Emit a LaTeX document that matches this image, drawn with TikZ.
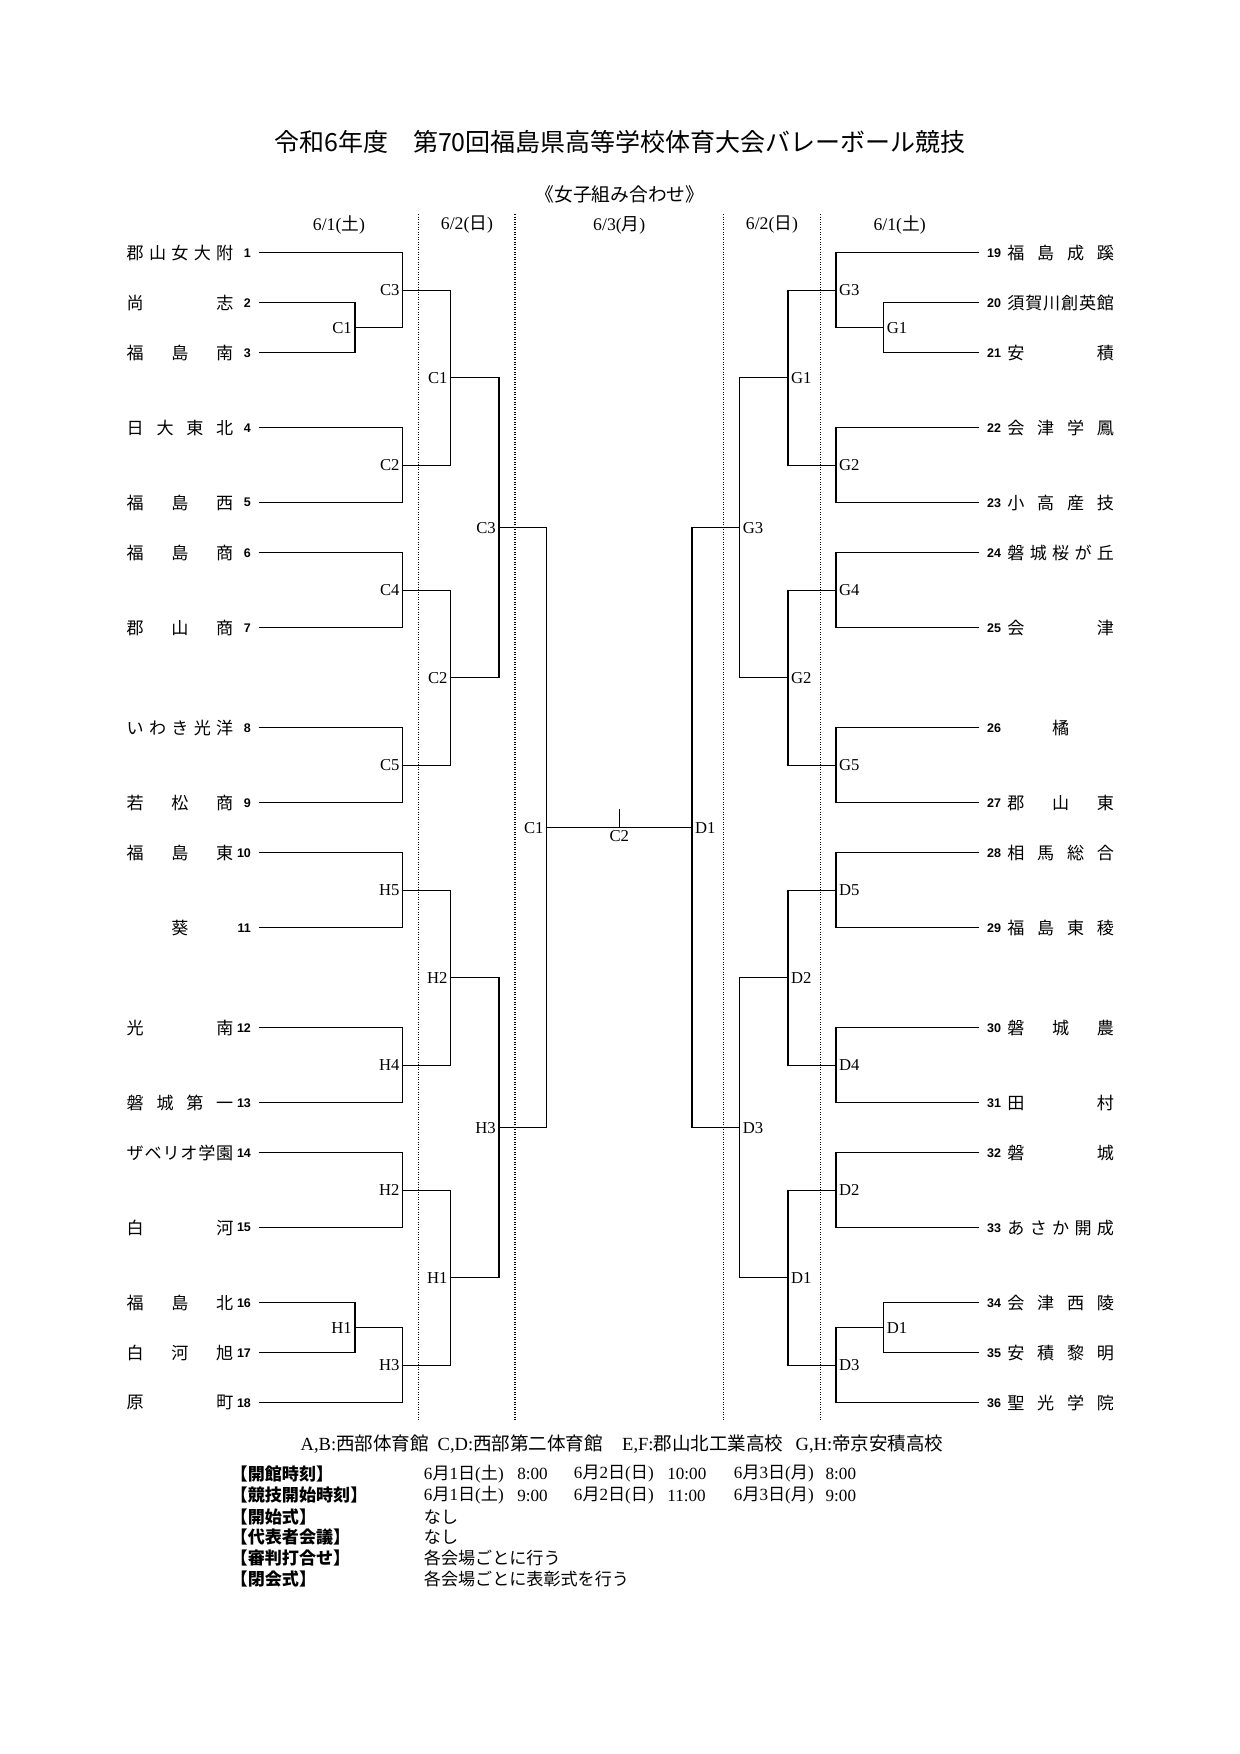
\documentclass[tikz,border=0pt]{standalone}
\usepackage{fontspec}
\setmainfont{Liberation Serif}
\setsansfont{Liberation Sans}
\newfontfamily\jp{Noto Sans CJK JP}
\newcommand\tm[1]{\makebox[51.2pt][s]{\spaceskip=0pt plus 1fil\relax #1}}
\newcommand\dt[3]{#1{\jp 月}#2{\jp 日}({\jp #3})}

\begin{document}
\begin{tikzpicture}[x=0.48pt,y=-0.48pt,line width=0.65pt,
  team/.style={anchor=west,inner sep=0pt,font=\jp\fontsize{8.2}{9}\selectfont},
  num/.style={inner xsep=3.4pt,inner ysep=0pt,font=\sffamily\bfseries\fontsize{6}{7}\selectfont},
  mlab/.style={inner sep=1.2pt,font=\fontsize{8}{9}\selectfont},
  ml/.style={label={[mlab]left:#1}},
  mr/.style={label={[mlab]right:#1}},
  sep/.style={line width=0.5pt,dash pattern=on 0.6pt off 0.6pt},
  day/.style={font=\fontsize{8.5}{10}\selectfont},
  info/.style={anchor=west,inner sep=0pt,font=\jp\bfseries\fontsize{8.2}{10}\selectfont},
  val/.style={anchor=west,inner sep=0pt,font=\fontsize{8.2}{10}\selectfont}]

  \useasboundingbox (0,0) rectangle (1240,1754);

  \node[font=\jp\fontsize{12}{14}\selectfont] (title) at (620,142) {令和6年度　第70回福島県高等学校体育大会バレーボール競技};
  \node[font=\jp\fontsize{9}{11}\selectfont] (sub) at (620,194) {《女子組み合わせ》};

  \node[day] (d1l) at (339,225) {6/1({\jp 土})};
  \node[day] (d2l) at (467,225) {6/2({\jp 日})};
  \node[day] (d3) at (619.3,225) {6/3({\jp 月})};
  \node[day] (d2r) at (772,225) {6/2({\jp 日})};
  \node[day] (d1r) at (899.6,225) {6/1({\jp 土})};

  \coordinate (s1t) at (418.3,214); \coordinate (s1b) at (418.3,1421);
  \coordinate (s2t) at (515,214); \coordinate (s2b) at (515,1421);
  \coordinate (s3t) at (723.6,214); \coordinate (s3b) at (723.6,1421);
  \coordinate (s4t) at (820.3,214); \coordinate (s4b) at (820.3,1421);
  \draw[sep] (s1t) -- (s1b);
  \draw[sep] (s2t) -- (s2b);
  \draw[sep] (s3t) -- (s3b);
  \draw[sep] (s4t) -- (s4b);

  % left teams
  \node[team] (t1) at (126,252.7) {\tm{郡 山 女 大 附}};
  \node[team] (t2) at (126,302.7) {\tm{尚 志}};
  \node[team] (t3) at (126,352.7) {\tm{福 島 南}};
  \node[team] (t4) at (126,427.7) {\tm{日 大 東 北}};
  \node[team] (t5) at (126,502.7) {\tm{福 島 西}};
  \node[team] (t6) at (126,552.7) {\tm{福 島 商}};
  \node[team] (t7) at (126,627.7) {\tm{郡 山 商}};
  \node[team] (t8) at (126,727.7) {\tm{い わ き 光 洋}};
  \node[team] (t9) at (126,802.7) {\tm{若 松 商}};
  \node[team] (t10) at (126,852.7) {\tm{福 島 東}};
  \node[team] (t11) at (126,927.7) {\tm{\hfil 葵\hfil}};
  \node[team] (t12) at (126,1027.7) {\tm{光 南}};
  \node[team] (t13) at (126,1102.7) {\tm{磐 城 第 一}};
  \node[team] (t14) at (126,1152.7) {\tm{ザ ベ リ オ 学 園}};
  \node[team] (t15) at (126,1227.7) {\tm{白 河}};
  \node[team] (t16) at (126,1302.7) {\tm{福 島 北}};
  \node[team] (t17) at (126,1352.7) {\tm{白 河 旭}};
  \node[team] (t18) at (126,1402.7) {\tm{原 町}};

  \node[num,anchor=east] (n1) at (258.7,252.7) {1};
  \node[num,anchor=east] (n2) at (258.7,302.7) {2};
  \node[num,anchor=east] (n3) at (258.7,352.7) {3};
  \node[num,anchor=east] (n4) at (258.7,427.7) {4};
  \node[num,anchor=east] (n5) at (258.7,502.7) {5};
  \node[num,anchor=east] (n6) at (258.7,552.7) {6};
  \node[num,anchor=east] (n7) at (258.7,627.7) {7};
  \node[num,anchor=east] (n8) at (258.7,727.7) {8};
  \node[num,anchor=east] (n9) at (258.7,802.7) {9};
  \node[num,anchor=east] (n10) at (258.7,852.7) {10};
  \node[num,anchor=east] (n11) at (258.7,927.7) {11};
  \node[num,anchor=east] (n12) at (258.7,1027.7) {12};
  \node[num,anchor=east] (n13) at (258.7,1102.7) {13};
  \node[num,anchor=east] (n14) at (258.7,1152.7) {14};
  \node[num,anchor=east] (n15) at (258.7,1227.7) {15};
  \node[num,anchor=east] (n16) at (258.7,1302.7) {16};
  \node[num,anchor=east] (n17) at (258.7,1352.7) {17};
  \node[num,anchor=east] (n18) at (258.7,1402.7) {18};

  % right teams
  \node[team] (t19) at (1006.7,252.7) {\tm{福 島 成 蹊}};
  \node[team] (t20) at (1006.7,302.7) {\tm{須 賀 川 創 英 館}};
  \node[team] (t21) at (1006.7,352.7) {\tm{安 積}};
  \node[team] (t22) at (1006.7,427.7) {\tm{会 津 学 鳳}};
  \node[team] (t23) at (1006.7,502.7) {\tm{小 高 産 技}};
  \node[team] (t24) at (1006.7,552.7) {\tm{磐 城 桜 が 丘}};
  \node[team] (t25) at (1006.7,627.7) {\tm{会 津}};
  \node[team] (t26) at (1006.7,727.7) {\tm{\hfil 橘\hfil}};
  \node[team] (t27) at (1006.7,802.7) {\tm{郡 山 東}};
  \node[team] (t28) at (1006.7,852.7) {\tm{相 馬 総 合}};
  \node[team] (t29) at (1006.7,927.7) {\tm{福 島 東 稜}};
  \node[team] (t30) at (1006.7,1027.7) {\tm{磐 城 農}};
  \node[team] (t31) at (1006.7,1102.7) {\tm{田 村}};
  \node[team] (t32) at (1006.7,1152.7) {\tm{磐 城}};
  \node[team] (t33) at (1006.7,1227.7) {\tm{あ さ か 開 成}};
  \node[team] (t34) at (1006.7,1302.7) {\tm{会 津 西 陵}};
  \node[team] (t35) at (1006.7,1352.7) {\tm{安 積 黎 明}};
  \node[team] (t36) at (1006.7,1402.7) {\tm{聖 光 学 院}};

  \node[num,anchor=west] (n19) at (979.3,252.7) {19};
  \node[num,anchor=west] (n20) at (979.3,302.7) {20};
  \node[num,anchor=west] (n21) at (979.3,352.7) {21};
  \node[num,anchor=west] (n22) at (979.3,427.7) {22};
  \node[num,anchor=west] (n23) at (979.3,502.7) {23};
  \node[num,anchor=west] (n24) at (979.3,552.7) {24};
  \node[num,anchor=west] (n25) at (979.3,627.7) {25};
  \node[num,anchor=west] (n26) at (979.3,727.7) {26};
  \node[num,anchor=west] (n27) at (979.3,802.7) {27};
  \node[num,anchor=west] (n28) at (979.3,852.7) {28};
  \node[num,anchor=west] (n29) at (979.3,927.7) {29};
  \node[num,anchor=west] (n30) at (979.3,1027.7) {30};
  \node[num,anchor=west] (n31) at (979.3,1102.7) {31};
  \node[num,anchor=west] (n32) at (979.3,1152.7) {32};
  \node[num,anchor=west] (n33) at (979.3,1227.7) {33};
  \node[num,anchor=west] (n34) at (979.3,1302.7) {34};
  \node[num,anchor=west] (n35) at (979.3,1352.7) {35};
  \node[num,anchor=west] (n36) at (979.3,1402.7) {36};

  % left matches
  \coordinate[ml=C1] (c1a) at (355,327.7);
  \coordinate[ml=H1] (h1a) at (355,1327.7);
  \coordinate[ml=C3] (c3a) at (402.7,290.2);
  \coordinate[ml=C2] (c2a) at (402.7,465.2);
  \coordinate[ml=C4] (c4a) at (402.7,590.2);
  \coordinate[ml=C5] (c5a) at (402.7,765.2);
  \coordinate[ml=H5] (h5a) at (402.7,890.2);
  \coordinate[ml=H4] (h4a) at (402.7,1065.2);
  \coordinate[ml=H2] (h2a) at (402.7,1190.2);
  \coordinate[ml=H3] (h3a) at (402.7,1365.2);
  \coordinate[ml=C1] (c1b) at (450.7,377.7);
  \coordinate[ml=C2] (c2b) at (450.7,677.7);
  \coordinate[ml=H2] (h2b) at (450.7,977.7);
  \coordinate[ml=H1] (h1b) at (450.7,1277.7);
  \coordinate[ml=C3] (c3c) at (499,527.7);
  \coordinate[ml=H3] (h3c) at (499,1127.7);
  \coordinate[ml=C1] (c1d) at (546.7,827.7);

  % right matches
  \coordinate[mr=G1] (g1a) at (883.6,327.7);
  \coordinate[mr=D1] (d1a) at (883.6,1327.7);
  \coordinate[mr=G3] (g3a) at (835.9,290.2);
  \coordinate[mr=G2] (g2a) at (835.9,465.2);
  \coordinate[mr=G4] (g4a) at (835.9,590.2);
  \coordinate[mr=G5] (g5a) at (835.9,765.2);
  \coordinate[mr=D5] (d5a) at (835.9,890.2);
  \coordinate[mr=D4] (d4a) at (835.9,1065.2);
  \coordinate[mr=D2] (d2a) at (835.9,1190.2);
  \coordinate[mr=D3] (d3a) at (835.9,1365.2);
  \coordinate[mr=G1] (g1b) at (787.9,377.7);
  \coordinate[mr=G2] (g2b) at (787.9,677.7);
  \coordinate[mr=D2] (d2b) at (787.9,977.7);
  \coordinate[mr=D1] (d1b) at (787.9,1277.7);
  \coordinate[mr=G3] (g3c) at (739.6,527.7);
  \coordinate[mr=D3] (d3c) at (739.6,1127.7);
  \coordinate[mr=D1] (d1d) at (691.9,827.7);

  \coordinate[label={[mlab]below:C2}] (fin) at (619.3,827.7);
  \coordinate (fintop) at (619.3,809.3);

  \draw (n1.east) -| (c3a) |- (c1a);
  \draw (n2.east) -| (c1a) |- (n3.east);
  \draw (n4.east) -| (c2a) |- (n5.east);
  \draw (n6.east) -| (c4a) |- (n7.east);
  \draw (n8.east) -| (c5a) |- (n9.east);
  \draw (n10.east) -| (h5a) |- (n11.east);
  \draw (n12.east) -| (h4a) |- (n13.east);
  \draw (n14.east) -| (h2a) |- (n15.east);
  \draw (n16.east) -| (h1a) |- (n17.east);
  \draw (h1a) -| (h3a) |- (n18.east);
  \draw (c3a) -| (c1b) |- (c2a);
  \draw (c4a) -| (c2b) |- (c5a);
  \draw (h5a) -| (h2b) |- (h4a);
  \draw (h2a) -| (h1b) |- (h3a);
  \draw (c1b) -| (c3c) |- (c2b);
  \draw (h2b) -| (h3c) |- (h1b);
  \draw (c3c) -| (c1d) |- (h3c);

  \draw (n19.west) -| (g3a) |- (g1a);
  \draw (n20.west) -| (g1a) |- (n21.west);
  \draw (n22.west) -| (g2a) |- (n23.west);
  \draw (n24.west) -| (g4a) |- (n25.west);
  \draw (n26.west) -| (g5a) |- (n27.west);
  \draw (n28.west) -| (d5a) |- (n29.west);
  \draw (n30.west) -| (d4a) |- (n31.west);
  \draw (n32.west) -| (d2a) |- (n33.west);
  \draw (n34.west) -| (d1a) |- (n35.west);
  \draw (d1a) -| (d3a) |- (n36.west);
  \draw (g3a) -| (g1b) |- (g2a);
  \draw (g4a) -| (g2b) |- (g5a);
  \draw (d5a) -| (d2b) |- (d4a);
  \draw (d2a) -| (d1b) |- (d3a);
  \draw (g1b) -| (g3c) |- (g2b);
  \draw (d2b) -| (d3c) |- (d1b);
  \draw (g3c) -| (d1d) |- (d3c);

  \draw (c1d) -- (fin) -- (d1d);
  \draw (fin) -- (fintop);

  % venues and times
  \node[val,font=\fontsize{8.9}{10}\selectfont] (v1) at (300,1444) {A,B:{\jp 西部体育館}};
  \node[val,font=\fontsize{8.9}{10}\selectfont] (v2) at (437,1444) {C,D:{\jp 西部第二体育館}};
  \node[val,font=\fontsize{8.9}{10}\selectfont] (v3) at (621.5,1444) {E,F:{\jp 郡山北工業高校}};
  \node[val,font=\fontsize{8.9}{10}\selectfont] (v4) at (795,1444) {G,H:{\jp 帝京安積高校}};

  \node[info] (i1) at (230,1474) {【開館時刻】};
  \node[info] (i2) at (230,1495.5) {【競技開始時刻】};
  \node[info] (i3) at (230,1516.8) {【開始式】};
  \node[info] (i4) at (230,1537.4) {【代表者会議】};
  \node[info] (i5) at (230,1558) {【審判打合せ】};
  \node[info] (i6) at (230,1578.5) {【閉会式】};

  \node[val] (a1) at (423.3,1474) {\dt{6}{1}{土}};
  \node[val] (a2) at (516.7,1474) {8:00};
  \node[val] (a3) at (573.3,1474) {\dt{6}{2}{日}};
  \node[val] (a4) at (666.7,1474) {10:00};
  \node[val] (a5) at (733.3,1474) {\dt{6}{3}{月}};
  \node[val] (a6) at (825,1474) {8:00};
  \node[val] (b1) at (423.3,1495.5) {\dt{6}{1}{土}};
  \node[val] (b2) at (516.7,1495.5) {9:00};
  \node[val] (b3) at (573.3,1495.5) {\dt{6}{2}{日}};
  \node[val] (b4) at (666.7,1495.5) {11:00};
  \node[val] (b5) at (733.3,1495.5) {\dt{6}{3}{月}};
  \node[val] (b6) at (825,1495.5) {9:00};
  \node[val] (e3) at (423.3,1516.8) {\jp なし};
  \node[val] (e4) at (423.3,1537.4) {\jp なし};
  \node[val] (e5) at (423.3,1558) {\jp 各会場ごとに行う};
  \node[val] (e6) at (423.3,1578.5) {\jp 各会場ごとに表彰式を行う};

\end{tikzpicture}
\end{document}
